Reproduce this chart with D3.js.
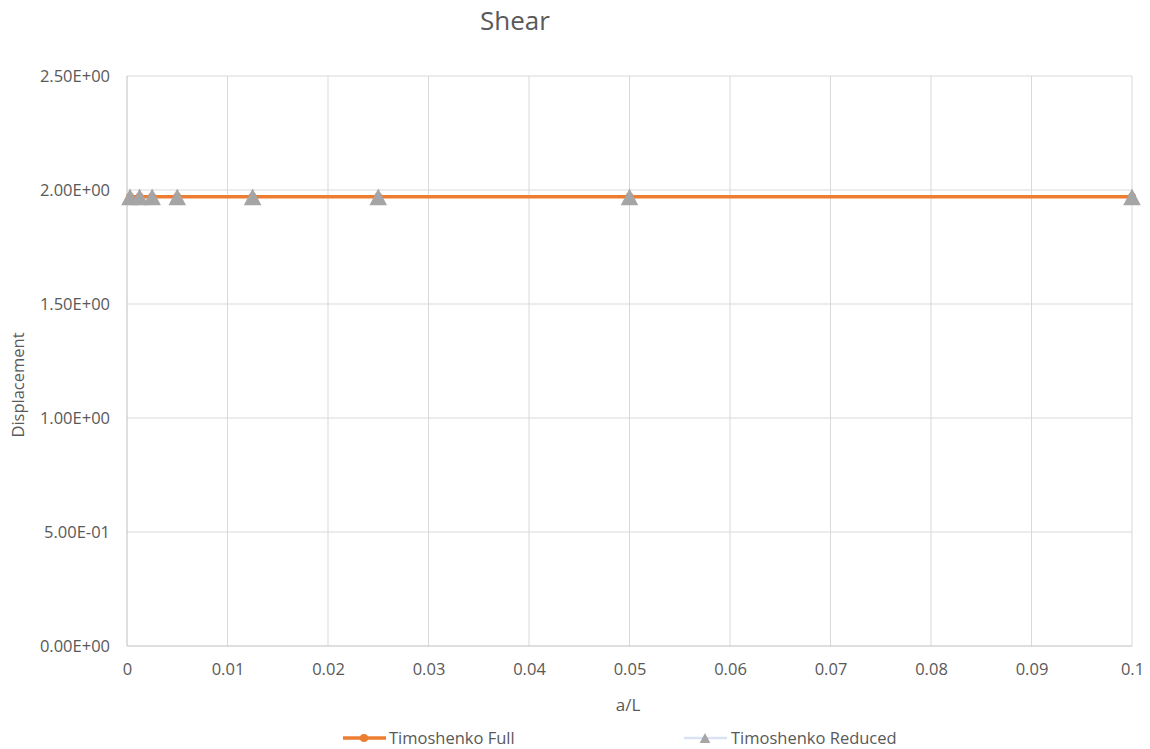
<!DOCTYPE html>
<html>
<head>
<meta charset="utf-8">
<script src="https://cdn.jsdelivr.net/npm/d3@7"></script>
<style>
  html, body { margin: 0; padding: 0; background: #ffffff; }
  svg { display: block; font-family: "Open Sans", "Noto Sans", sans-serif; }
</style>
</head>
<body>
<svg id="chart" width="1150" height="749"></svg>
<script>
// a/L ratios sampled
const aOverL = [0.0003, 0.00125, 0.0025, 0.005, 0.0125, 0.025, 0.05, 0.1];
// Tip displacement for each element formulation
const timoshenkoFull = [1.97, 1.97, 1.97, 1.97, 1.97, 1.97, 1.97, 1.97];
const timoshenkoReduced = [1.97, 1.97, 1.97, 1.97, 1.97, 1.97, 1.97, 1.97];
// Axis ticks
const xTicks = [0, 0.01, 0.02, 0.03, 0.04, 0.05, 0.06, 0.07, 0.08, 0.09, 0.1];
const yTicks = [0, 0.5, 1.0, 1.5, 2.0, 2.5];
const yTickLabels = ["0.00E+00", "5.00E-01", "1.00E+00", "1.50E+00", "2.00E+00", "2.50E+00"];

(function () {
  const svg = d3.select("#chart");
  const plotLeft = 127, plotRight = 1132, plotTop = 76, plotBottom = 646;

  const x = d3.scaleLinear().domain([0, 0.1]).range([plotLeft, plotRight]);
  const y = d3.scaleLinear().domain([0, 2.5]).range([plotBottom, plotTop]);

  const textColor = "#595959";
  const gridColor = "#d9d9d9";
  const fontStack = "'Open Sans', 'Noto Sans', sans-serif";

  // Triangle marker centred on its bounding box
  const boxTriangle = {
    draw(context, size) {
      const w = Math.sqrt(size) * 0.75, h = w * 0.95;
      context.moveTo(0, -h / 2);
      context.lineTo(w / 2, h / 2);
      context.lineTo(-w / 2, h / 2);
      context.closePath();
    }
  };

  // Gridlines
  svg.append("g").selectAll("line").data(xTicks.slice(1)).join("line")
    .attr("x1", d => x(d)).attr("x2", d => x(d))
    .attr("y1", plotTop).attr("y2", plotBottom)
    .attr("stroke", gridColor).attr("stroke-width", 1);
  svg.append("g").selectAll("line").data(yTicks.slice(1)).join("line")
    .attr("x1", plotLeft).attr("x2", plotRight)
    .attr("y1", d => y(d)).attr("y2", d => y(d))
    .attr("stroke", gridColor).attr("stroke-width", 1);

  // Axis lines
  svg.append("line").attr("x1", plotLeft).attr("x2", plotRight).attr("y1", plotBottom).attr("y2", plotBottom)
    .attr("stroke", "#bfbfbf").attr("stroke-width", 1);
  svg.append("line").attr("x1", plotLeft).attr("x2", plotLeft).attr("y1", plotTop).attr("y2", plotBottom)
    .attr("stroke", "#bfbfbf").attr("stroke-width", 1);

  // X axis
  const xAxis = d3.axisBottom(x).tickValues(xTicks).tickSize(0).tickPadding(17)
    .tickFormat(d => d === 0 ? "0" : d3.format("~g")(d));
  const gx = svg.append("g").attr("transform", `translate(0,${plotBottom})`).call(xAxis);
  gx.select(".domain").remove();
  gx.selectAll("text").attr("fill", textColor).style("font-size", "16.5px")
    .style("font-family", fontStack);

  // Y axis
  const yAxis = d3.axisLeft(y).tickValues(yTicks).tickSize(0).tickPadding(17)
    .tickFormat((d, i) => yTickLabels[i]);
  const gy = svg.append("g").attr("transform", `translate(${plotLeft},0)`).call(yAxis);
  gy.select(".domain").remove();
  gy.selectAll("text").attr("fill", textColor).style("font-size", "16.5px")
    .style("font-family", fontStack);

  // Titles
  svg.append("text").attr("x", 515).attr("y", 30).attr("text-anchor", "middle")
    .attr("fill", textColor).style("font-size", "26px").text("Shear");
  svg.append("text").attr("x", 628).attr("y", 711).attr("text-anchor", "middle")
    .attr("fill", textColor).style("font-size", "17px").text("a/L");
  svg.append("text").attr("transform", `translate(24,385) rotate(-90)`)
    .attr("text-anchor", "middle")
    .attr("fill", textColor).style("font-size", "16.5px").text("Displacement");

  const line = d3.line().x((d, i) => x(aOverL[i])).y(d => y(d));
  const triangle = d3.symbol().type(boxTriangle).size(550);

  // Timoshenko Reduced series line
  svg.append("path").datum(timoshenkoReduced).attr("d", line)
    .attr("fill", "none").attr("stroke", "#dae3f3").attr("stroke-width", 2.5);

  // Timoshenko Full series
  svg.append("path").datum(timoshenkoFull).attr("d", line)
    .attr("fill", "none").attr("stroke", "#ed7d31").attr("stroke-width", 3.5);
  svg.append("g").selectAll("circle").data(timoshenkoFull).join("circle")
    .attr("cx", (d, i) => x(aOverL[i])).attr("cy", d => y(d)).attr("r", 4)
    .attr("fill", "#ed7d31");

  // Timoshenko Reduced markers
  svg.append("g").selectAll("path").data(timoshenkoReduced).join("path")
    .attr("d", triangle)
    .attr("transform", (d, i) => `translate(${x(aOverL[i])},${y(d)})`)
    .attr("fill", "#a5a5a5");

  // Legend
  const legendY = 738;
  const lg = svg.append("g");
  lg.append("line").attr("x1", 343).attr("x2", 386).attr("y1", legendY).attr("y2", legendY)
    .attr("stroke", "#ed7d31").attr("stroke-width", 3.5);
  lg.append("circle").attr("cx", 364).attr("cy", legendY).attr("r", 4).attr("fill", "#ed7d31");
  lg.append("text").attr("x", 389).attr("y", legendY + 6).attr("fill", textColor)
    .style("font-size", "16.5px").text("Timoshenko Full");
  lg.append("line").attr("x1", 684).attr("x2", 727).attr("y1", legendY).attr("y2", legendY)
    .attr("stroke", "#dae3f3").attr("stroke-width", 2.5);
  lg.append("path").attr("d", d3.symbol().type(boxTriangle).size(200))
    .attr("transform", `translate(705,${legendY})`).attr("fill", "#a5a5a5");
  lg.append("text").attr("x", 731).attr("y", legendY + 6).attr("fill", textColor)
    .style("font-size", "16.5px").text("Timoshenko Reduced");
})();
</script>
</body>
</html>
